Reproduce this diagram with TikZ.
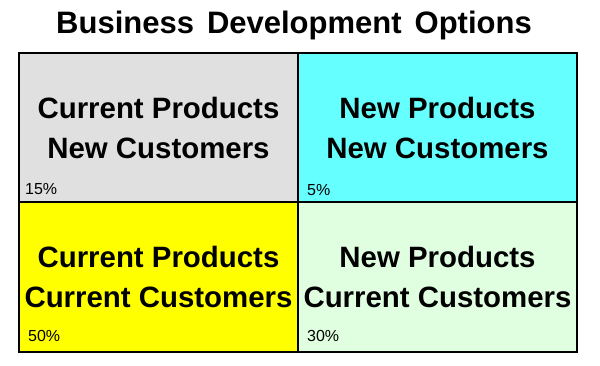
\documentclass[tikz,border=0pt]{standalone}
\usepackage{fontspec}
\setmainfont{Liberation Sans}
\usetikzlibrary{positioning}
\definecolor{cellgray}{RGB}{224,224,224}
\definecolor{cellcyan}{RGB}{102,255,255}
\definecolor{cellyellow}{RGB}{255,255,0}
\definecolor{cellgreen}{RGB}{224,255,224}
\tikzset{
  cell/.style={draw=black, line width=2pt, rectangle, inner sep=0pt,
    minimum width=279pt, minimum height=149.5pt, align=center,
    font=\fontsize{29.4}{42}\selectfont\bfseries},
  share/.style={font=\fontsize{16}{18}\selectfont, inner sep=0pt, anchor=base west}
}
\begin{document}
\begin{tikzpicture}[x=1pt, y=-1pt]
  \useasboundingbox (0,0) rectangle (600,366);
  \node[font=\fontsize{31}{34}\selectfont\bfseries, anchor=base] (title) at (294,34) {\spaceskip=13pt\relax Business Development Options};
  % four quadrants
  \node[cell, fill=cellgray] (cpnc) at (158.5,127.5) {\raisebox{-2pt}{Current Products}\\New Customers};
  \node[cell, fill=cellcyan] (npnc) at (437.5,127.5) {\raisebox{-2pt}{New Products}\\New Customers};
  \node[cell, fill=cellyellow] (cpcc) at (158.5,277) {\raisebox{-2pt}{Current Products}\\Current Customers};
  \node[cell, fill=cellgreen] (npcc) at (437.5,277) {\raisebox{-2pt}{New Products}\\Current Customers};
  % shares
  \node[share] (cpncshare) at ([xshift=7pt, yshift=9pt]cpnc.south west) {15\%};
  \node[share] (npncshare) at ([xshift=10pt, yshift=8pt]npnc.south west) {5\%};
  \node[share] (cpccshare) at ([xshift=10pt, yshift=11pt]cpcc.south west) {50\%};
  \node[share] (npccshare) at ([xshift=10pt, yshift=11pt]npcc.south west) {30\%};
\end{tikzpicture}
\end{document}
